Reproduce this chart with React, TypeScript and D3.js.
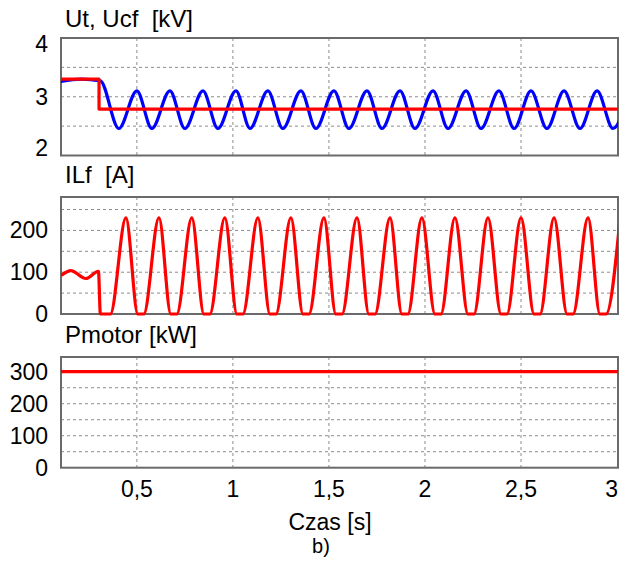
import React from "react";
import * as d3 from "d3";

// ---- data ----
const xTicks = [0.5, 1, 1.5, 2, 2.5, 3];
const xTickLabels = ["0,5", "1", "1,5", "2", "2,5", "3"];

// Ut (blue) : extrema points [time s, kV]
const utTimes = [0.105, 0.21, 0.31, 0.406, 0.5, 0.578, 0.672, 0.75, 0.844, 0.922, 1.016, 1.089, 1.182, 1.26, 1.354, 1.432, 1.526, 1.604, 1.698, 1.776, 1.87, 1.948, 2.042, 2.12, 2.214, 2.292, 2.385, 2.464, 2.552, 2.635, 2.724, 2.807, 2.896, 2.979, 3.065];
const utValues = [3.26, 3.3, 3.27, 2.46, 3.1, 2.46, 3.1, 2.46, 3.1, 2.46, 3.1, 2.46, 3.1, 2.46, 3.1, 2.46, 3.1, 2.46, 3.1, 2.46, 3.1, 2.46, 3.1, 2.46, 3.1, 2.46, 3.1, 2.46, 3.1, 2.46, 3.1, 2.46, 3.1, 2.46, 3.1];

// Ucf (red step)
const ucfTimes = [0.105, 0.303, 0.303, 3.005];
const ucfValues = [3.3, 3.3, 2.79, 2.79];

// ILf (red) [time s, A]
const ilfTimes = [0.105, 0.156, 0.234, 0.3, 0.31, 0.362, 0.443, 0.505, 0.536, 0.615, 0.677, 0.708, 0.786, 0.849, 0.88, 0.958, 1.021, 1.052, 1.13, 1.193, 1.224, 1.302, 1.365, 1.396, 1.474, 1.536, 1.568, 1.646, 1.708, 1.74, 1.818, 1.88, 1.911, 1.984, 2.052, 2.083, 2.156, 2.224, 2.255, 2.328, 2.396, 2.427, 2.5, 2.568, 2.599, 2.672, 2.74, 2.771, 2.849, 2.911, 2.943, 3.016];
const ilfValues = [92, 104, 85, 102, 0, 0, 230, 0, 0, 230, 0, 0, 230, 0, 0, 230, 0, 0, 230, 0, 0, 230, 0, 0, 230, 0, 0, 230, 0, 0, 230, 0, 0, 230, 0, 0, 230, 0, 0, 230, 0, 0, 230, 0, 0, 230, 0, 0, 230, 0, 0, 230];

// Pmotor (red) [time s, kW]
const pTimes = [0.105, 3.005];
const pValues = [300, 300];

const p1Ticks = [2, 3, 4];
const p1Grid = [2.5, 3, 3.5];
const p2Ticks = [0, 100, 200];
const p2Grid = [50, 100, 150, 200, 250];
const p3Ticks = [0, 100, 200, 300];
const p3Grid = [50, 100, 150, 200, 250, 300];

const W = 619;
const H = 562;
const L = 61;
const R = 618;
const FONT = "Arial, 'Liberation Sans', sans-serif";

const x = d3.scaleLinear().domain([0.105, 3.005]).range([L, R]);

type Series = { t: number[]; v: number[]; color: string; curve: d3.CurveFactory };

function Panel(props: {
  id: string;
  top: number;
  bottom: number;
  domain: [number, number];
  ticks: number[];
  grid: number[];
  title: string;
  titleY: number;
  series: Series[];
  clampLabels?: boolean;
  showX?: boolean;
}) {
  const { id, top, bottom, domain, ticks, grid, title, titleY, series, clampLabels, showX } = props;
  const y = d3.scaleLinear().domain(domain).range([bottom, top]);
  return (
    <g>
      <defs>
        <clipPath id={id}>
          <rect x={L} y={top - 3} width={R - L} height={bottom - top + 6} />
        </clipPath>
      </defs>
      <text x={65} y={titleY} fontSize={24} fontFamily={FONT} style={{ whiteSpace: "pre" }} fill="#000">
        {title}
      </text>
      {grid.map((g) => (
        <line key={"h" + g} x1={L} x2={R} y1={y(g)} y2={y(g)} stroke="#8c8c8c" strokeWidth={1} strokeDasharray="3,3" />
      ))}
      {xTicks.slice(0, 5).map((t) => (
        <line key={"v" + t} x1={x(t)} x2={x(t)} y1={top} y2={bottom} stroke="#8c8c8c" strokeWidth={1} strokeDasharray="3,3" />
      ))}
      <rect x={L} y={top} width={R - L} height={bottom - top} fill="none" stroke="#6a6a6a" strokeWidth={2} />
      {ticks.map((tv) => {
        let yy = y(tv);
        if (clampLabels) yy = Math.min(Math.max(yy, top + 6), bottom - 8);
        return (
          <text key={"t" + tv} x={48} y={yy} fontSize={23} fontFamily={FONT} textAnchor="end" dominantBaseline="central" fill="#000">
            {tv}
          </text>
        );
      })}
      <g clipPath={`url(#${id})`}>
        {series.map((s, i) => {
          const pts: [number, number][] = s.t.map((t, k) => [t, s.v[k]]);
          const line = d3
            .line<[number, number]>()
            .x((d) => x(d[0]))
            .y((d) => y(d[1]))
            .curve(s.curve);
          return <path key={i} d={line(pts) || ""} fill="none" stroke={s.color} strokeWidth={3.2} strokeLinejoin="round" />;
        })}
      </g>
      {showX &&
        xTicks.map((t, i) => {
          const last = i === xTicks.length - 1;
          return (
            <text key={"x" + t} x={last ? 618 : x(t)} y={497} fontSize={23} fontFamily={FONT} textAnchor={last ? "end" : "middle"} fill="#000">
              {xTickLabels[i]}
            </text>
          );
        })}
    </g>
  );
}

export default function App() {
  return (
    <svg width={W} height={H} style={{ position: "absolute", left: 0, top: 0, background: "#fff" }}>
      <rect x={0} y={0} width={W} height={H} fill="#fff" />
      <Panel
        id="c1"
        top={38}
        bottom={155.5}
        domain={[2, 4]}
        ticks={p1Ticks}
        grid={p1Grid}
        title={"Ut, Ucf  [kV]"}
        titleY={27}
        clampLabels
        series={[
          { t: utTimes, v: utValues, color: "#0000ff", curve: d3.curveMonotoneX },
          { t: ucfTimes, v: ucfValues, color: "#ff0000", curve: d3.curveLinear },
        ]}
      />
      <Panel
        id="c2"
        top={197}
        bottom={314}
        domain={[0, 280]}
        ticks={p2Ticks}
        grid={p2Grid}
        title={"ILf  [A]"}
        titleY={183}
        series={[{ t: ilfTimes, v: ilfValues, color: "#ff0000", curve: d3.curveMonotoneX }]}
      />
      <Panel
        id="c3"
        top={357}
        bottom={467.7}
        domain={[0, 346]}
        ticks={p3Ticks}
        grid={p3Grid}
        title={"Pmotor [kW]"}
        titleY={343}
        showX
        series={[{ t: pTimes, v: pValues, color: "#ff0000", curve: d3.curveLinear }]}
      />
      <text x={330} y={530} fontSize={23} fontFamily={FONT} textAnchor="middle" fill="#000">
        Czas [s]
      </text>
      <text x={321} y={553} fontSize={20} fontFamily={FONT} textAnchor="middle" fill="#000">
        b)
      </text>
    </svg>
  );
}
